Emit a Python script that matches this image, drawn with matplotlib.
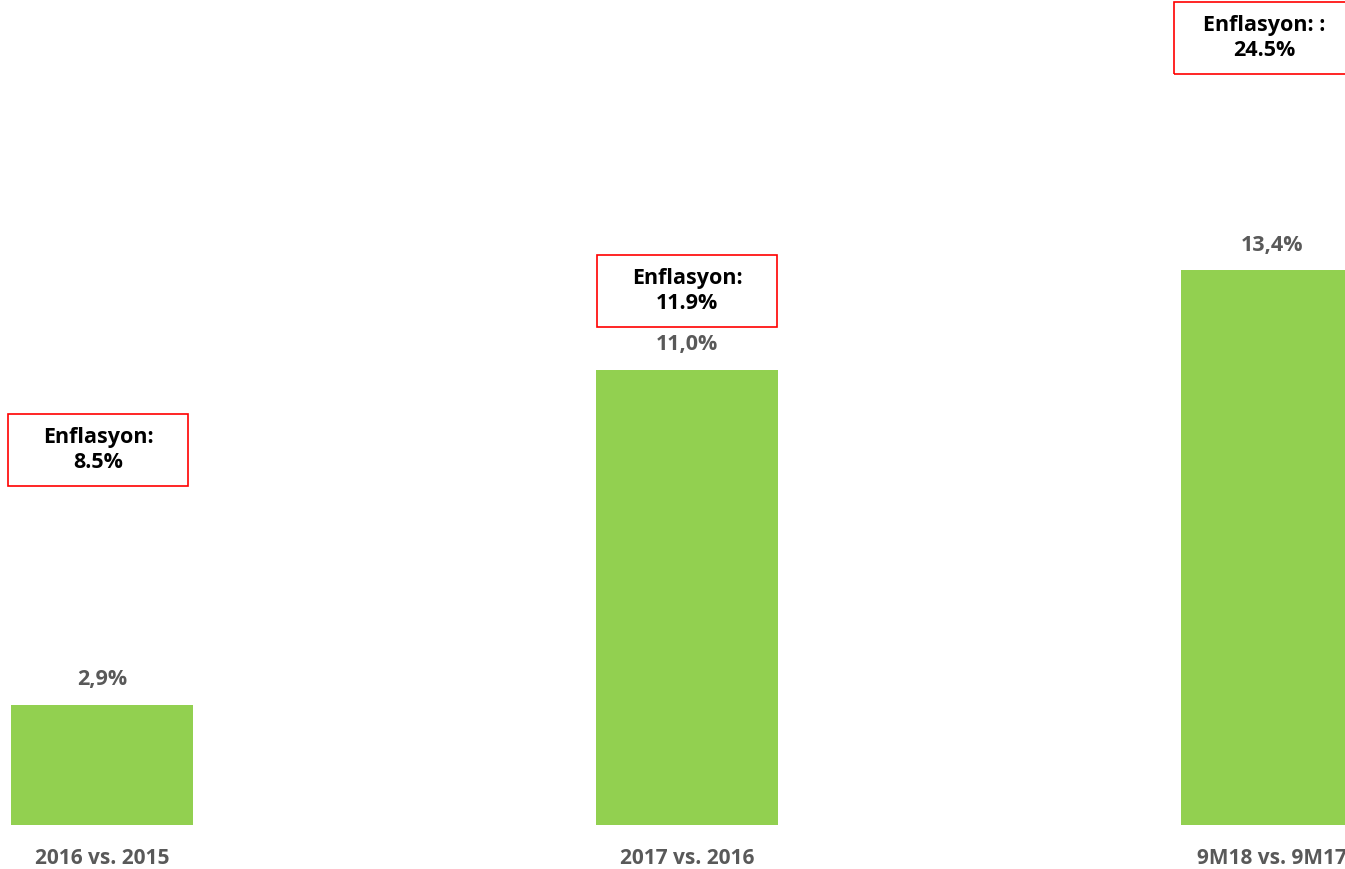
import matplotlib.pyplot as plt
from matplotlib.patches import Rectangle

# Growth figures and inflation notes per period
periods = ["2016 vs. 2015", "2017 vs. 2016", "9M18 vs. 9M17"]
growth = [2.9, 11.0, 13.4]
growth_labels = ["2,9%", "11,0%", "13,4%"]
inflation_labels = ["Enflasyon:\n8.5%", "Enflasyon:\n11.9%", "Enflasyon: :\n24.5%"]

plt.rcParams["font.family"] = ["Open Sans", "DejaVu Sans"]

fig = plt.figure(figsize=(13.45, 8.69), dpi=100)
ax = fig.add_axes([0, 0, 1, 1])

px_x = 585.0   # pixels per category step
px_y = 41.4    # pixels per percentage point
ax.set_xlim(-102 / px_x, 1243 / px_x)
ax.set_ylim(-44 / px_y, 825 / px_y)
ax.axis("off")

x = list(range(len(periods)))
ax.bar(x, growth, width=182 / px_x, color="#92D050", zorder=2)

for xi, g, lab in zip(x, growth, growth_labels):
    ax.text(xi, g + 25 / px_y, lab, ha="center", va="center",
            fontsize=15.5, fontweight="bold", color="#595959")

for xi, name in zip(x, periods):
    ax.text(xi, -33 / px_y, name, ha="center", va="center",
            fontsize=15, fontweight="bold", color="#595959")

# red note boxes above the bars
box_w = 180 / px_x
box_h = 72 / px_y
box_bottom = [(825 - 486) / px_y, (825 - 327) / px_y, (825 - 74) / px_y]
box_dx = [-4 / px_x, 0, -8 / px_x]
for xi, yb, dx, note in zip(x, box_bottom, box_dx, inflation_labels):
    cx = xi + dx
    ax.add_patch(Rectangle((cx - box_w / 2, yb), box_w, box_h, fill=False,
                           edgecolor="#FF0000", linewidth=1.2, zorder=3))
    ax.text(cx, yb + box_h / 2, note, ha="center", va="center",
            fontsize=15.5, fontweight="bold", color="black",
            linespacing=1.25, zorder=4)

fig.savefig("out.png", dpi=100)
